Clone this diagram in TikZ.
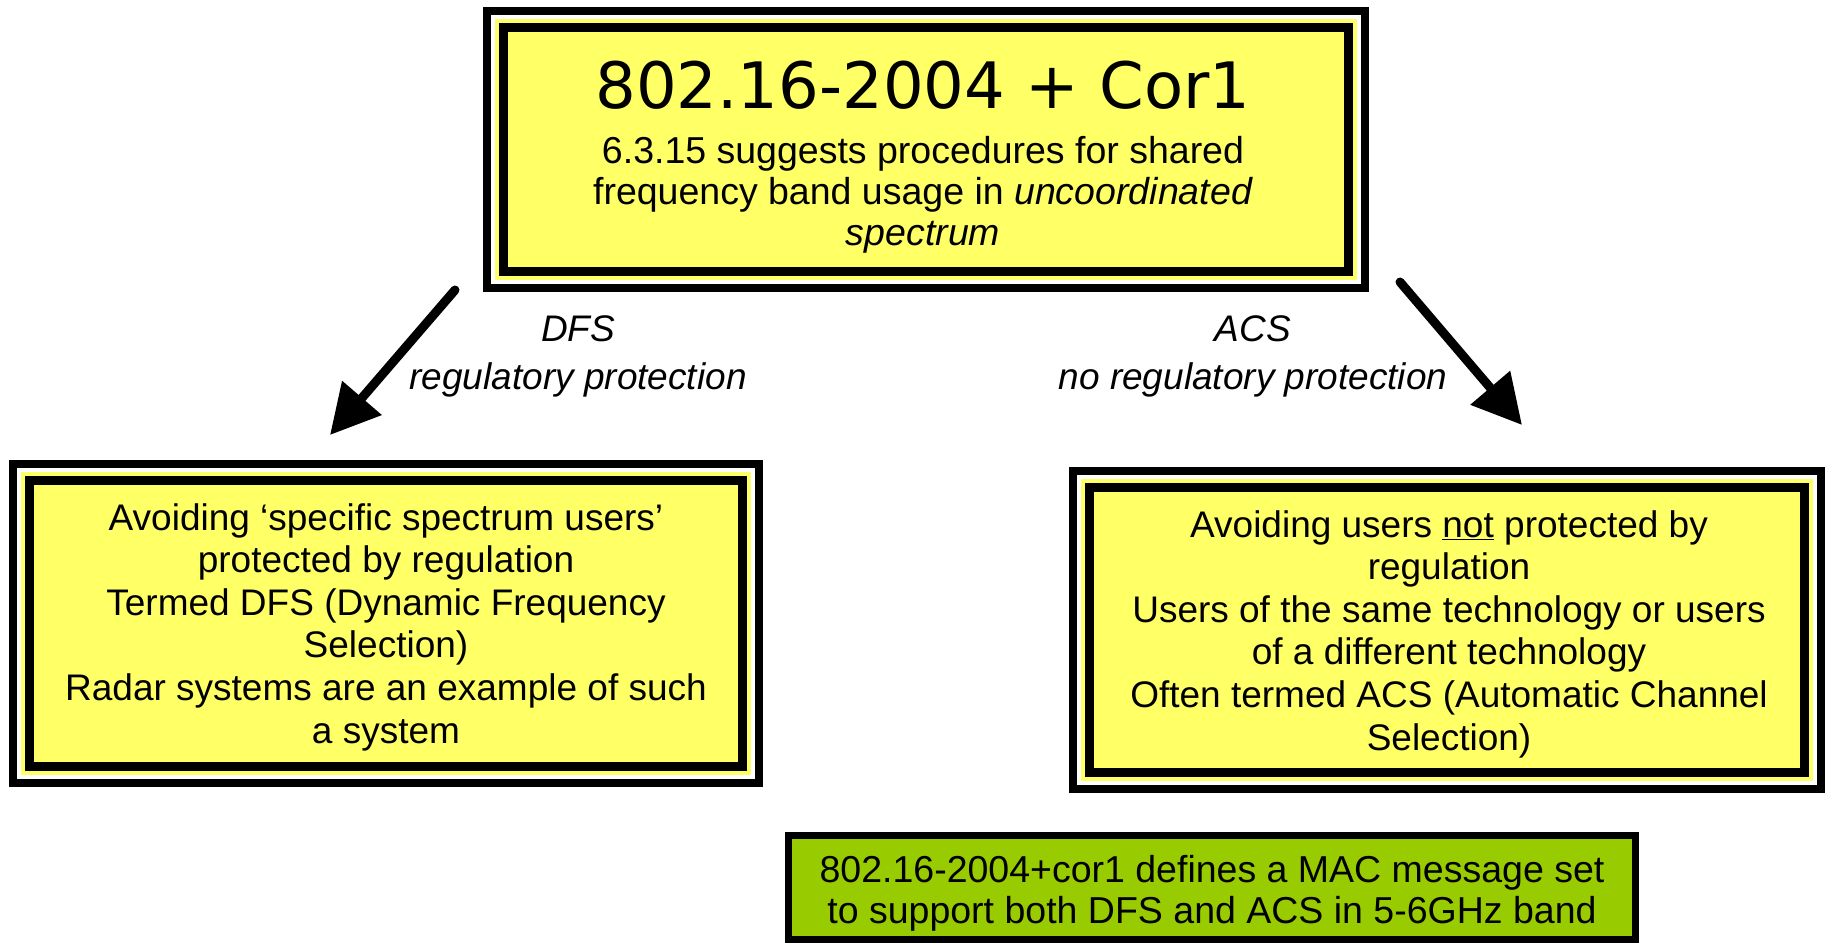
\documentclass[tikz,border=0pt]{standalone}
\usepackage{fontspec}
\setmainfont{Liberation Sans}
\newfontfamily\titlefam{DejaVu Sans}
\usetikzlibrary{arrows.meta}
\definecolor{boxyellow}{HTML}{FFFF66}
\definecolor{boxgreen}{HTML}{99CC00}
\begin{document}
\begin{tikzpicture}[x=1pt,y=-1pt,
  innerframe/.style={draw=black, line width=8.5pt, fill=boxyellow, inner sep=0pt, outer sep=0pt},
  greenframe/.style={draw=black, line width=7pt, fill=boxgreen, inner sep=0pt, outer sep=0pt},
  bodytext/.style={align=center, inner sep=0pt, font=\fontsize{37}{42.6}\selectfont},
  toptext/.style={align=center, inner sep=0pt, font=\fontsize{37.5}{41}\selectfont},
  labeltext/.style={align=center, inner sep=0pt, font=\fontsize{37}{48}\selectfont\itshape},
  titletext/.style={inner sep=0pt, font=\titlefam\fontsize{64}{64}\selectfont},
  bigarrow/.style={line width=9pt, line cap=round, -{Triangle[length=49pt,width=50pt]}}
]
\useasboundingbox (0,0) rectangle (1825,943);

% boxes
\node[innerframe, minimum width=845pt, minimum height=244pt] (topbox) at (926,149.5) {};
\node[innerframe, minimum width=713pt, minimum height=286pt] (dfsbox) at (386,623.5) {};
\node[innerframe, minimum width=715pt, minimum height=285pt] (acsbox) at (1447,630) {};
\node[greenframe, minimum width=847pt, minimum height=104pt] (msgbox) at (1212,887.5) {};

\foreach \n in {topbox,dfsbox,acsbox}{
  \draw[black, line width=8pt] ([shift={(-16.5,-16.5)}]\n.north west) rectangle ([shift={(16.5,16.5)}]\n.south east);
  \draw[white, line width=4pt] ([shift={(-10.5,-10.5)}]\n.north west) rectangle ([shift={(10.5,10.5)}]\n.south east);
  \draw[boxyellow, line width=4pt] ([shift={(-6.5,-6.5)}]\n.north west) rectangle ([shift={(6.5,6.5)}]\n.south east);
}

% texts
\node[titletext, anchor=base] (title) at (923,108) {802.16-2004 + Cor1};
\node[toptext] (topbody) at (923,195) {6.3.15 suggests procedures for shared\\frequency band usage in \textit{uncoordinated}\\\textit{spectrum}};
\node[bodytext] (dfstext) at (386,627) {Avoiding ‘specific spectrum users’\\protected by regulation\\Termed DFS (Dynamic Frequency\\Selection)\\Radar systems are an example of such\\a system};
\node[bodytext] (acstext) at (1449,634) {Avoiding users \underline{not} protected by\\regulation\\Users of the same technology or users\\of a different technology\\Often termed ACS (Automatic Channel\\Selection)};
\node[bodytext, font=\fontsize{37.5}{41}\selectfont] (msgtext) at (1212,893) {802.16-2004+cor1 defines a MAC message set\\to support both DFS and ACS in 5-6GHz band};

% arrows
\coordinate (dfsfrom) at (455,290);
\coordinate (dfsto) at (330,435);
\coordinate (acsfrom) at (1400,282);
\coordinate (acsto) at (1522,425);
\draw[bigarrow] (dfsfrom) -- (dfsto);
\draw[bigarrow] (acsfrom) -- (acsto);

\node[labeltext] (dfslabel) at (578,356.5) {DFS\\regulatory protection};
\node[labeltext] (acslabel) at (1253,356.5) {ACS\\no regulatory protection};
\end{tikzpicture}
\end{document}
